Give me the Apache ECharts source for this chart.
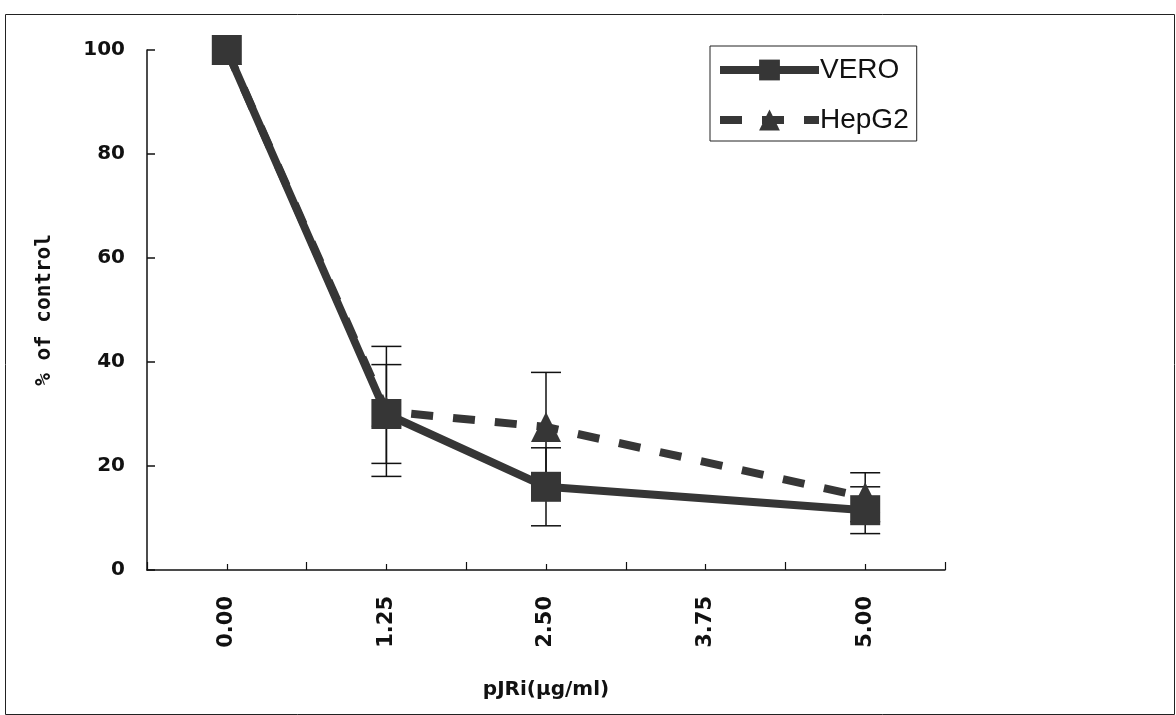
<!DOCTYPE html>
<html>
<head>
<meta charset="utf-8">
<script src="https://cdn.jsdelivr.net/npm/echarts@6/dist/echarts.min.js"></script>
<style>
  html, body { margin: 0; background: #fff; }
  #chart { width: 1176px; height: 715px; }
</style>
</head>
<body>
<div id="chart"></div>
<script>
// doses (ug/ml) on the x axis, 3.75 has no measurement
const doses = ['0.00', '1.25', '2.50', '3.75', '5.00'];
const veroValues = [100, 30, 16, null, 11.5];
const veroErrors = [0, 9.5, 7.5, null, 4.5];
const hepValues = [100, 30.5, 27.5, null, 14];
const hepErrors = [0, 12.5, 10.5, null, 4.7];

const ink = '#111';
const markColor = '#363636';

// [index, low, high] for each point that has an error bar
const errorData = (values, errors) => {
  const out = [];
  values.forEach((v, i) => {
    if (v == null || !errors[i]) return;
    out.push([i, v - errors[i], v + errors[i]]);
  });
  return out;
};

const renderError = (params, api) => {
  const x = api.value(0);
  const lo = api.coord([x, api.value(1)]);
  const hi = api.coord([x, api.value(2)]);
  const half = 15;
  const style = { stroke: ink, lineWidth: 1.5 };
  return {
    type: 'group',
    children: [
      { type: 'line', shape: { x1: hi[0], y1: hi[1], x2: lo[0], y2: lo[1] }, style },
      { type: 'line', shape: { x1: hi[0] - half, y1: hi[1], x2: hi[0] + half, y2: hi[1] }, style },
      { type: 'line', shape: { x1: lo[0] - half, y1: lo[1], x2: lo[0] + half, y2: lo[1] }, style }
    ]
  };
};

const chart = echarts.init(document.getElementById('chart'));
chart.setOption({
  backgroundColor: '#fff',
  animation: false,
  graphic: [{
    type: 'rect',
    left: 3, top: 12,
    shape: { width: 1169, height: 700 },
    style: { fill: 'none', stroke: '#222', lineWidth: 1 },
    silent: true
  }],
  grid: { left: 147, right: 231, top: 50, bottom: 145 },
  legend: {
    left: 710, top: 46,
    orient: 'vertical',
    padding: [10, 8, 7, 6],
    itemGap: 22,
    itemWidth: 99,
    itemHeight: 26,
    borderColor: '#222',
    borderWidth: 1,
    lineStyle: { width: 8 },
    data: ['VERO', 'HepG2'],
    textStyle: { fontFamily: 'Liberation Sans', fontSize: 28, color: ink, padding: [0, 0, 0, -4] }
  },
  xAxis: [{
    type: 'category',
    data: doses,
    boundaryGap: true,
    name: 'pJRi(\u03bcg/ml)',
    nameLocation: 'middle',
    nameGap: 110,
    nameTextStyle: { fontFamily: 'DejaVu Sans', fontWeight: 'bold', fontSize: 20, color: ink },
    axisLine: { lineStyle: { color: ink, width: 1.5 } },
    axisTick: { show: true, inside: true, length: 8, lineStyle: { color: ink, width: 1.2 } },
    axisLabel: { rotate: 90, margin: 26, fontFamily: 'DejaVu Sans', fontWeight: 'bold', fontSize: 21, color: ink },
    splitLine: { show: false }
  }, {
    // second axis only to draw the short ticks at the category centres
    type: 'category',
    data: doses,
    position: 'bottom',
    axisLine: { show: false },
    axisTick: { show: true, inside: true, length: 6, alignWithLabel: true, lineStyle: { color: ink, width: 1.2 } },
    axisLabel: { show: false },
    splitLine: { show: false }
  }],
  yAxis: {
    type: 'value',
    min: 0, max: 100, interval: 20,
    name: '% of control',
    nameLocation: 'middle',
    nameGap: 92,
    nameTextStyle: { fontFamily: 'DejaVu Sans Mono', fontWeight: 'bold', fontSize: 21, color: ink },
    axisLine: { show: true, lineStyle: { color: ink, width: 1.5 } },
    axisTick: { show: true, inside: true, length: 8, lineStyle: { color: ink, width: 1.5 } },
    axisLabel: { margin: 22, fontFamily: 'DejaVu Sans', fontWeight: 'bold', fontSize: 20, color: ink },
    splitLine: { show: false }
  },
  series: [{
    type: 'custom',
    name: 'err',
    renderItem: renderError,
    encode: { x: 0, y: [1, 2] },
    data: errorData(veroValues, veroErrors).concat(errorData(hepValues, hepErrors)),
    z: 1,
    silent: true
  }, {
    type: 'line',
    name: 'HepG2',
    data: hepValues,
    connectNulls: true,
    symbol: 'triangle',
    symbolSize: 30,
    color: markColor,
    lineStyle: { width: 8, type: [22, 20], color: markColor },
    itemStyle: { color: markColor },
    z: 2
  }, {
    type: 'line',
    name: 'VERO',
    data: veroValues,
    connectNulls: true,
    symbol: 'rect',
    symbolSize: 30,
    color: markColor,
    lineStyle: { width: 8, color: markColor },
    itemStyle: { color: markColor },
    z: 3
  }]
});
</script>
</body>
</html>
